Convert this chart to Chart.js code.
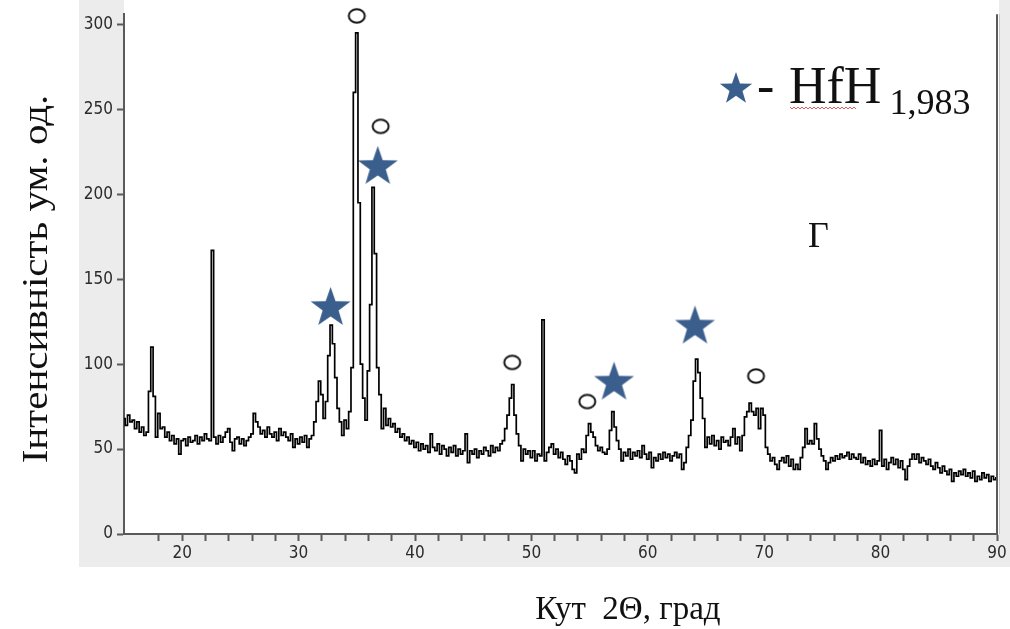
<!DOCTYPE html>
<html>
<head>
<meta charset="utf-8">
<script src="https://cdn.jsdelivr.net/npm/chart.js@4.4.0/dist/chart.umd.min.js"></script>
<style>
  html, body { margin: 0; padding: 0; background: #fff; }
  #xrd { display: block; }
</style>
</head>
<body>
<canvas id="xrd" width="1010" height="629"></canvas>
<script>
// scan grid: 2Theta from 15 to 90 deg, step 0.2
const scanStart = 15;
const scanStep = 0.2;
// intensity, one row per 2 degrees
const intensity = [
    68, 64, 70, 66, 67, 62, 66, 60, 63, 58,       // 15
    60, 84, 110, 81, 57, 71, 62, 63, 57, 60,      // 17
    55, 58, 53, 56, 47, 55, 56, 52, 57, 54,       // 19
    55, 58, 53, 57, 55, 59, 56, 55, 167, 57,      // 21
    53, 58, 54, 57, 60, 62, 54, 49, 56, 57,       // 23
    53, 56, 52, 55, 57, 59, 71, 66, 63, 59,       // 25
    61, 57, 63, 59, 57, 60, 55, 62, 58, 60,       // 27
    57, 55, 59, 51, 56, 53, 57, 54, 58, 51,       // 29
    56, 58, 66, 78, 90, 82, 68, 78, 105, 123,     // 31
    112, 92, 74, 66, 58, 67, 62, 72, 98, 260,     // 33
    295, 195, 100, 80, 67, 96, 135, 204, 165, 98, // 35
    82, 62, 74, 64, 68, 63, 65, 60, 62, 57,       // 37
    59, 55, 57, 53, 55, 51, 54, 49, 53, 50,       // 39
    52, 48, 59, 51, 49, 53, 47, 52, 50, 46,       // 41
    51, 48, 52, 46, 50, 47, 49, 59, 42, 49,       // 43
    47, 50, 45, 49, 47, 51, 49, 46, 52, 48,       // 45
    51, 49, 53, 55, 62, 70, 80, 88, 70, 59,       // 47
    52, 43, 50, 47, 49, 45, 49, 43, 47, 46,       // 49
    126, 43, 48, 51, 53, 47, 50, 45, 48, 44,      // 51
    41, 46, 43, 38, 36, 47, 44, 50, 48, 58,       // 53
    65, 60, 57, 52, 49, 51, 48, 47, 50, 61,       // 55
    72, 63, 55, 50, 43, 48, 46, 50, 44, 48,       // 57
    46, 49, 45, 52, 47, 44, 48, 39, 45, 43,       // 59
    47, 44, 48, 45, 47, 43, 46, 48, 45, 47,       // 61
    38, 42, 51, 58, 67, 90, 103, 95, 80, 68,      // 63
    51, 57, 53, 58, 52, 55, 50, 57, 54, 55,       // 65
    52, 57, 62, 53, 57, 49, 58, 69, 72, 77,       // 67
    72, 70, 74, 62, 74, 70, 51, 47, 43, 45,       // 69
    41, 38, 43, 45, 42, 46, 40, 44, 38, 41,       // 71
    38, 45, 51, 62, 53, 55, 53, 65, 56, 50,       // 73
    46, 43, 38, 42, 45, 43, 46, 44, 47, 45,       // 75
    46, 48, 44, 47, 45, 44, 47, 42, 45, 41,       // 77
    43, 40, 44, 41, 43, 61, 40, 44, 38, 42,       // 79
    45, 41, 44, 39, 43, 38, 32, 40, 44, 47,       // 81
    44, 47, 42, 45, 43, 41, 44, 40, 38, 42,       // 83
    39, 36, 40, 37, 35, 38, 31, 36, 34, 37,       // 85
    35, 38, 34, 36, 33, 37, 31, 34, 32, 36,       // 87
    33, 35, 31, 34, 32, 33                        // 89
];

// phase marks above the peaks
const circleAngles = [35.0, 37.05, 48.35, 54.8, 69.3];
const circleLevels = [305, 240, 101, 78, 93];
const starAngles = [32.75, 36.8, 57.1, 64.05];
const starLevels = [134, 217, 90, 123];

const yTicks = [0, 50, 100, 150, 200, 250, 300];
const xLabels = [20, 30, 40, 50, 60, 70, 80, 90];

const STAR_BLUE = '#3b5f8d';
const AXIS_GREY = '#5a5a5a';

function starPath(ctx, cx, cy, r) {
    ctx.beginPath();
    for (let i = 0; i < 10; i++) {
        const rad = i % 2 === 0 ? r : r * 0.4;
        const a = -Math.PI / 2 + i * Math.PI / 5;
        const px = cx + rad * Math.cos(a);
        const py = cy + rad * Math.sin(a);
        if (i === 0) ctx.moveTo(px, py); else ctx.lineTo(px, py);
    }
    ctx.closePath();
}

function makeStar(r) {
    const c = document.createElement('canvas');
    const w = Math.ceil(r * 1.95) + 2;
    const h = Math.ceil(r * 1.81) + 2;
    c.width = w; c.height = h;
    const g = c.getContext('2d');
    g.fillStyle = STAR_BLUE;
    starPath(g, w / 2, 1 + r, r);
    g.fill();
    return c;
}

function makeRing() {
    const c = document.createElement('canvas');
    c.width = 21; c.height = 18;
    const g = c.getContext('2d');
    g.strokeStyle = '#151515';
    g.lineWidth = 2;
    g.beginPath();
    g.ellipse(10.5, 9, 8, 6.8, 0, 0, Math.PI * 2);
    g.stroke();
    return c;
}

const profile = intensity.map((v, i) => ({ x: +(scanStart + i * scanStep).toFixed(1), y: v }));
const circles = circleAngles.map((a, i) => ({ x: a, y: circleLevels[i] }));
const stars = starAngles.map((a, i) => ({ x: a, y: starLevels[i] }));

const decor = {
    id: 'decor',
    beforeDraw(chart) {
        const ctx = chart.ctx;
        const a = chart.chartArea;
        ctx.save();
        ctx.fillStyle = '#ffffff';
        ctx.fillRect(0, 0, chart.width, chart.height);
        ctx.fillStyle = '#ececec';
        ctx.fillRect(79, 0, a.left - 79, 567);
        ctx.fillRect(79, a.bottom, chart.width - 79, 567 - a.bottom);
        ctx.fillRect(a.right + 2, 0, chart.width - a.right - 2, 567);
        ctx.restore();
    },
    afterDraw(chart) {
        const ctx = chart.ctx;
        const a = chart.chartArea;
        ctx.save();
        // right frame line
        ctx.strokeStyle = AXIS_GREY;
        ctx.lineWidth = 2;
        ctx.beginPath();
        ctx.moveTo(a.right, a.top);
        ctx.lineTo(a.right, a.bottom);
        ctx.stroke();
        ctx.strokeStyle = '#c8c8c8';
        ctx.lineWidth = 1;
        ctx.beginPath();
        ctx.moveTo(a.right + 2.5, a.top);
        ctx.lineTo(a.right + 2.5, a.bottom);
        ctx.stroke();

        // axis titles
        ctx.fillStyle = '#111';
        ctx.font = '33px "Liberation Serif", "Times New Roman", serif';
        ctx.textAlign = 'center';
        ctx.textBaseline = 'alphabetic';
        ctx.fillText('Кут  2Θ, град', 628, 619);
        ctx.save();
        ctx.translate(47, 279);
        ctx.rotate(-Math.PI / 2);
        ctx.scale(1.14, 1);
        ctx.font = '36px "Liberation Serif", "Times New Roman", serif';
        ctx.fillText('Інтенсивність ум. од.', 0, 0);
        ctx.restore();

        // legend: star - HfH1,983
        ctx.fillStyle = STAR_BLUE;
        starPath(ctx, 736, 89, 17);
        ctx.fill();
        ctx.fillStyle = '#111';
        ctx.textAlign = 'left';
        ctx.font = '52px "Liberation Serif", "Times New Roman", serif';
        ctx.fillText('-', 757, 103);
        ctx.fillText('HfH', 789, 103);
        const hw = ctx.measureText('HfH').width;
        ctx.font = '36px "Liberation Serif", "Times New Roman", serif';
        ctx.fillText('1,983', 789 + hw + 8, 114);
        // spell-check squiggle under HfH
        ctx.strokeStyle = '#e25a5a';
        ctx.lineWidth = 1;
        ctx.beginPath();
        for (let x = 790, k = 0; x <= 856; x += 2, k++) {
            const y = 108 + (k % 2 === 0 ? -1 : 1);
            if (k === 0) ctx.moveTo(x, y); else ctx.lineTo(x, y);
        }
        ctx.stroke();

        // sample label
        ctx.fillStyle = '#111';
        ctx.font = '36px "Liberation Serif", "Times New Roman", serif';
        ctx.fillText('Г', 808, 247);
        ctx.restore();
    }
};

const tickFont = { family: '"Liberation Sans Narrow", "DejaVu Sans Condensed", sans-serif', size: 17 };

new Chart(document.getElementById('xrd'), {
    type: 'line',
    data: {
        datasets: [
            {
                label: 'XRD',
                data: profile,
                borderColor: '#000000',
                borderWidth: 1.7,
                pointRadius: 0,
                stepped: 'middle',
                fill: false
            },
            {
                type: 'scatter',
                label: 'circles',
                data: circles,
                pointStyle: makeRing(),
                clip: false
            },
            {
                type: 'scatter',
                label: 'stars',
                data: stars,
                pointStyle: makeStar(21),
                clip: false
            }
        ]
    },
    options: {
        responsive: false,
        animation: false,
        events: [],
        layout: { padding: { left: 0, top: 10, right: 13, bottom: 0 } },
        plugins: {
            legend: { display: false },
            tooltip: { enabled: false }
        },
        scales: {
            x: {
                type: 'linear',
                min: 15,
                max: 90,
                afterFit: (s) => { s.height = 95; },
                afterBuildTicks: (s) => { s.ticks = s.ticks.filter(t => t.value > 15); },
                ticks: {
                    stepSize: 2,
                    autoSkip: false,
                    maxRotation: 0,
                    padding: 2,
                    color: '#2b2b2b',
                    font: tickFont,
                    callback: (v) => xLabels.includes(v) ? String(v) : ''
                },
                grid: {
                    drawOnChartArea: false,
                    drawTicks: true,
                    tickLength: 7,
                    tickWidth: 2,
                    tickColor: AXIS_GREY
                },
                border: { display: true, color: AXIS_GREY, width: 2 }
            },
            y: {
                min: 0,
                max: 306,
                afterFit: (s) => { s.width = 124; },
                afterBuildTicks: (s) => { s.ticks = yTicks.map(v => ({ value: v })); },
                ticks: {
                    padding: 4,
                    color: '#2b2b2b',
                    font: tickFont
                },
                grid: {
                    drawOnChartArea: false,
                    drawTicks: true,
                    tickLength: 7,
                    tickWidth: 2,
                    tickColor: AXIS_GREY
                },
                border: { display: true, color: AXIS_GREY, width: 2 }
            }
        }
    },
    plugins: [decor]
});
</script>
</body>
</html>
